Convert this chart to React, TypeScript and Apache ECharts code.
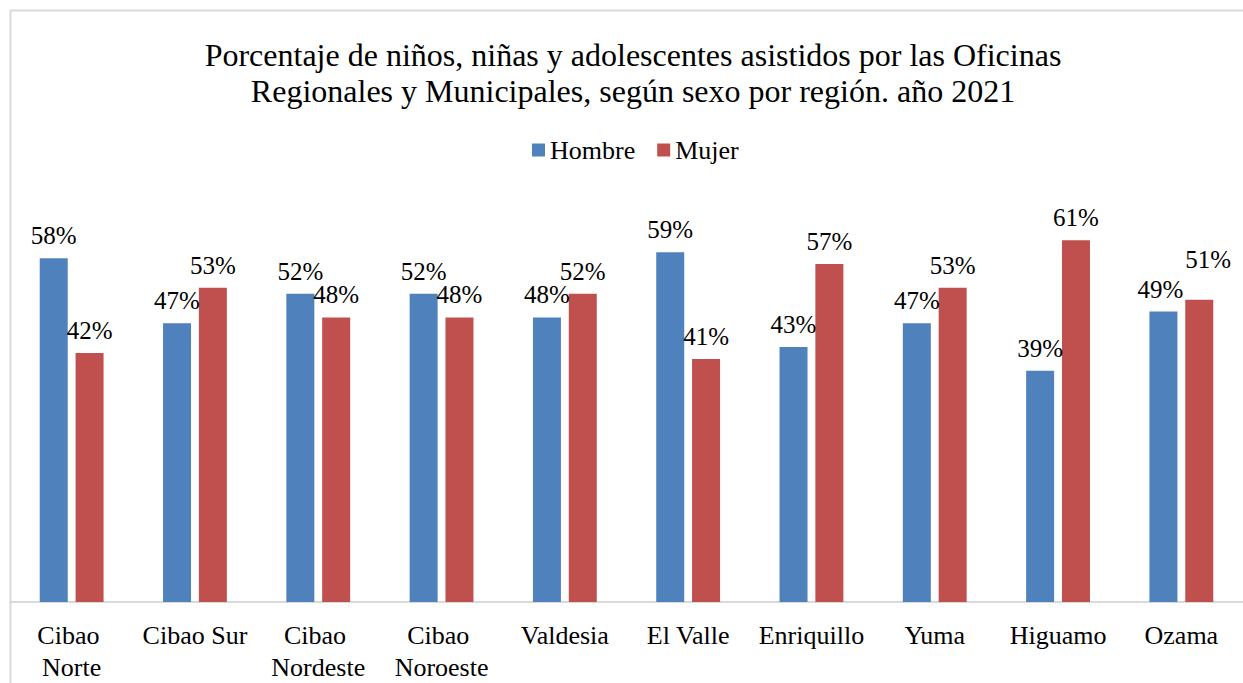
import React, { useEffect, useRef } from "react";
import * as echarts from "echarts";

const regions = [
  "Cibao Norte",
  "Cibao Sur",
  "Cibao Nordeste",
  "Cibao Noroeste",
  "Valdesia",
  "El Valle",
  "Enriquillo",
  "Yuma",
  "Higuamo",
  "Ozama",
];
const hombre = [58, 47, 52, 52, 48, 59, 43, 47, 39, 49];
const mujer = [42, 53, 48, 48, 52, 41, 57, 53, 61, 51];

const titleText =
  "Porcentaje de niños, niñas y adolescentes asistidos por las Oficinas\nRegionales y Municipales, según sexo por región. año 2021";

const FONT = "'Liberation Serif', 'Times New Roman', serif";

export default function App() {
  const ref = useRef<HTMLDivElement>(null);
  useEffect(() => {
    if (!ref.current) return;
    const chart = echarts.init(ref.current, undefined, { renderer: "svg" });
    const labelStyle = {
      show: true,
      position: "top" as const,
      distance: 10,
      formatter: (p: any) => `${p.value}%`,
      fontFamily: FONT,
      fontSize: 25,
      color: "#000",
    };
    chart.setOption({
      animation: false,
      textStyle: { fontFamily: FONT },
      title: {
        text: titleText,
        left: 628,
        textAlign: "center",
        top: 32,
        textStyle: {
          fontFamily: FONT,
          fontSize: 32,
          fontWeight: "normal",
          color: "#000",
          lineHeight: 36,
        },
      },
      legend: {
        data: ["Hombre", "Mujer"],
        left: 527,
        top: 132,
        itemWidth: 13,
        itemHeight: 13,
        itemGap: 22,
        icon: "rect",
        textStyle: { fontFamily: FONT, fontSize: 26, color: "#000" },
      },
      graphic: [
        {
          type: "rect",
          shape: { x: 10.5, y: 10.5, width: 1260, height: 700 },
          style: { fill: "none", stroke: "#d9d9d9", lineWidth: 2 },
          silent: true,
          z: -1,
        },
      ],
      grid: { left: 10, right: -3, top: 187, bottom: 76, containLabel: false },
      xAxis: {
        type: "category",
        data: regions,
        axisLine: { show: true, lineStyle: { color: "#d9d9d9", width: 2 } },
        axisTick: { show: false },
        axisLabel: {
          interval: 0,
          fontFamily: FONT,
          fontSize: 26,
          color: "#000",
          margin: 17,
          lineHeight: 32,
          width: 116,
          overflow: "break",
        },
      },
      yAxis: {
        type: "value",
        min: 0,
        max: 70,
        show: false,
        splitLine: { show: false },
      },
      series: [
        {
          name: "Hombre",
          type: "bar",
          data: hombre,
          barWidth: 28,
          barGap: "28%",
          itemStyle: { color: "#4f81bd" },
          label: labelStyle,
          labelLayout: (p: any) => (p.dataIndex === 9 ? { dx: -3 } : {}),
        },
        {
          name: "Mujer",
          type: "bar",
          data: mujer,
          barWidth: 28,
          itemStyle: { color: "#c0504d" },
          label: labelStyle,
          labelLayout: (p: any) => (p.dataIndex === 9 ? { dx: 9, dy: -18 } : {}),
        },
      ],
    });
    return () => chart.dispose();
  }, []);
  return (
    <div
      ref={ref}
      style={{ position: "fixed", left: 0, top: 0, width: 1243, height: 683, background: "#fff" }}
    />
  );
}
